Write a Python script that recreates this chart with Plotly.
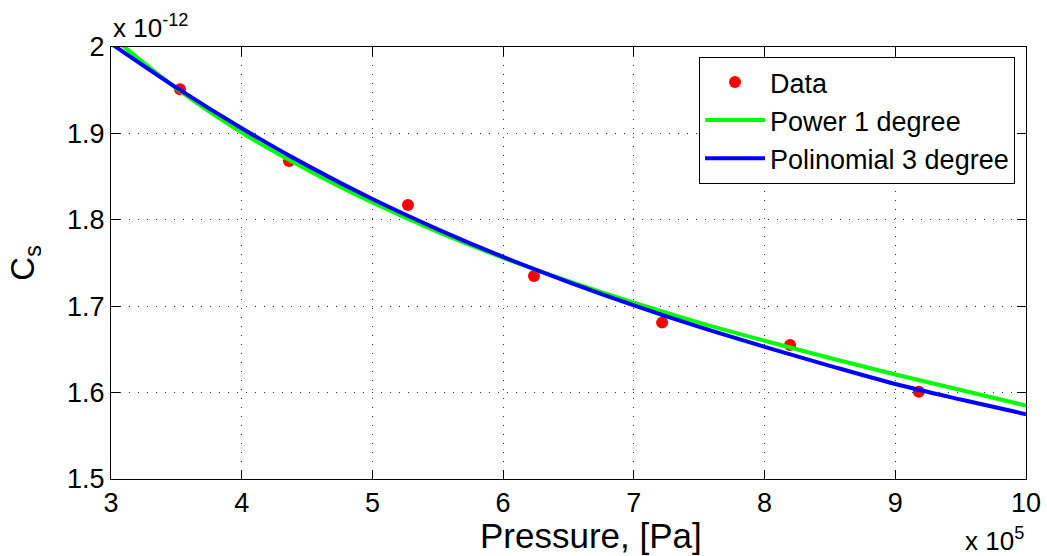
import plotly.graph_objects as go

# Pressure values in units of 1e5 Pa, Cs in units of 1e-12
data_x = [3.528, 4.362, 5.272, 6.236, 7.216, 8.195, 9.180]
data_y = [1.951, 1.868, 1.817, 1.735, 1.681, 1.655, 1.601]

fit_x = [3.0, 3.5, 4.0, 4.5, 5.0, 5.5, 6.0, 6.5, 7.0, 7.5, 8.0, 8.5, 9.0, 9.5, 10.0]
power_y = [2.013, 1.952, 1.901, 1.858, 1.820, 1.786, 1.756, 1.729, 1.704, 1.681,
           1.660, 1.640, 1.621, 1.603, 1.585]
poly_y = [2.004, 1.953, 1.906, 1.863, 1.824, 1.789, 1.757, 1.728, 1.701, 1.676,
          1.653, 1.631, 1.610, 1.592, 1.575]

x_ticks = [3, 4, 5, 6, 7, 8, 9, 10]
y_ticks = [1.5, 1.6, 1.7, 1.8, 1.9, 2.0]
y_tick_labels = ["1.5", "1.6", "1.7", "1.8", "1.9", "2"]

FONT = "Liberation Sans, Arial, sans-serif"

fig = go.Figure()
fig.add_trace(go.Scatter(x=data_x, y=data_y, mode="markers", name="Data",
                         marker=dict(color="#ff0000", size=12)))
fig.add_trace(go.Scatter(x=fit_x, y=power_y, mode="lines", name="Power 1 degree",
                         line=dict(color="#00ff00", width=4, shape="spline")))
fig.add_trace(go.Scatter(x=fit_x, y=poly_y, mode="lines", name="Polinomial 3 degree",
                         line=dict(color="#0000ff", width=4, shape="spline")))

axis_common = dict(
    showline=True, linecolor="black", linewidth=1, mirror="ticks",
    ticks="inside", ticklen=9, tickcolor="black", tickwidth=1,
    showgrid=True, gridcolor="#333333", griddash="1px,8px", gridwidth=1,
    zeroline=False, automargin=False,
    tickfont=dict(family=FONT, size=27, color="black"),
)

fig.update_layout(
    width=1047, height=556,
    margin=dict(l=111, r=21, t=47, b=77),
    paper_bgcolor="white", plot_bgcolor="white",
    font=dict(family=FONT, color="black"),
    xaxis=dict(range=[3, 10], tickvals=x_ticks, **axis_common),
    yaxis=dict(range=[1.5, 2.0], tickvals=y_ticks, ticktext=y_tick_labels,
               title=dict(text="C<sub>s</sub>", font=dict(family=FONT, size=33), standoff=22),
               **axis_common),
    legend=dict(x=0.988, y=0.977, xanchor="right", yanchor="top",
                bgcolor="white", bordercolor="black", borderwidth=1,
                font=dict(family=FONT, size=27, color="black"),
                itemwidth=60, tracegroupgap=0),
    showlegend=True,
    annotations=[
        dict(text="Pressure, [Pa]", xref="paper", yref="paper", x=0.5246, y=0,
             xanchor="center", yanchor="middle", showarrow=False, yshift=-56,
             font=dict(family=FONT, size=35, color="black")),
        dict(text="x 10<sup>-12</sup>", xref="paper", yref="paper", x=0, y=1,
             xanchor="left", yanchor="bottom", showarrow=False, yshift=2,
             font=dict(family=FONT, size=26, color="black")),
        dict(text="x 10<sup>5</sup>", xref="paper", yref="paper", x=1, y=0,
             xanchor="right", yanchor="top", showarrow=False, yshift=-42,
             font=dict(family=FONT, size=26, color="black")),
    ],
)

fig.write_html(
    "out.html",
    config={"displayModeBar": False},
    post_script="document.body.style.margin='0';document.body.style.overflow='hidden';",
)
